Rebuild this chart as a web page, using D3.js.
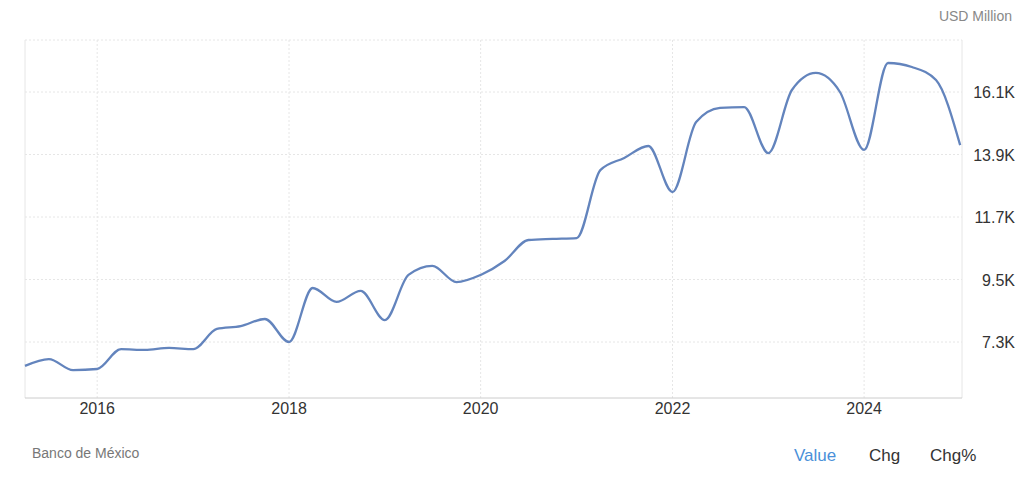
<!DOCTYPE html>
<html><head><meta charset="utf-8">
<script src="https://cdn.jsdelivr.net/npm/d3@7"></script>
<style>body{margin:0;background:#fff;font-family:"Helvetica Neue",Arial,"Liberation Sans",sans-serif}</style>
</head><body><svg id="c" width="1024" height="481"></svg>
<script>
const dates = ["2015-04","2015-07","2015-10","2016-01","2016-04","2016-07","2016-10","2017-01","2017-04","2017-07","2017-10","2018-01","2018-04","2018-07","2018-10","2019-01","2019-04","2019-07","2019-10","2020-01","2020-04","2020-07","2020-10","2021-01","2021-04","2021-07","2021-10","2022-01","2022-04","2022-07","2022-10","2023-01","2023-04","2023-07","2023-10","2024-01","2024-04","2024-07","2024-10","2025-01"];
const values = [6460,6700,6310,6350,7050,7020,7090,7050,7760,7860,8110,7300,9200,8710,9100,8070,9660,9980,9410,9660,10150,10890,10930,10960,13350,13780,14200,12580,15040,15540,15570,13950,16170,16770,16100,14060,17120,16980,16520,14230];
const yTicks = [7300,9500,11700,13900,16100];
const yTickLabels = ["7.3K","9.5K","11.7K","13.9K","16.1K"];
const xTickYears = [2016,2018,2020,2022,2024];

const svg = d3.select("#c");
const L=25,R=962,T=40,B=398;
const parse=d3.timeParse("%Y-%m");
const data=dates.map((d,i)=>({d:parse(d),v:values[i]}));
const x=d3.scaleTime().domain([new Date(2015,3,1),new Date(2025,0,8)]).range([L,R]);
const y=d3.scaleLinear().domain([7300,16100]).range([342,92]);

const g=svg.append("g");
g.selectAll(".hg").data(yTicks).join("line").attr("x1",L).attr("x2",R).attr("y1",d=>y(d)).attr("y2",d=>y(d)).attr("stroke","#e6e6e6").attr("stroke-dasharray","2,2");
g.append("line").attr("x1",L).attr("x2",R).attr("y1",T).attr("y2",T).attr("stroke","#e6e6e6").attr("stroke-dasharray","2,2");
g.selectAll(".vg").data(xTickYears).join("line").attr("x1",d=>x(new Date(d,0,1))).attr("x2",d=>x(new Date(d,0,1))).attr("y1",T).attr("y2",B).attr("stroke","#e6e6e6").attr("stroke-dasharray","2,2");
g.append("line").attr("x1",L).attr("x2",L).attr("y1",T).attr("y2",B).attr("stroke","#e6e6e6");
g.append("line").attr("x1",R).attr("x2",R).attr("y1",T).attr("y2",B).attr("stroke","#e6e6e6");
g.append("line").attr("x1",L).attr("x2",R).attr("y1",B).attr("y2",B).attr("stroke","#ccc");

g.selectAll(".yl").data(yTicks).join("text").attr("x",1015).attr("y",d=>y(d)+6).attr("text-anchor","end").attr("font-size",16).attr("fill","#333").text((d,i)=>yTickLabels[i]);
g.selectAll(".xl").data(xTickYears).join("text").attr("x",d=>x(new Date(d,0,1))).attr("y",414).attr("text-anchor","middle").attr("font-size",16).attr("fill","#333").text(d=>d);

svg.append("path").datum(data).attr("fill","none").attr("stroke","#6384bd").attr("stroke-width",2.3)
 .attr("d",d3.line().x(d=>x(d.d)).y(d=>y(d.v)).curve(d3.curveMonotoneX));

svg.append("text").attr("x",1012).attr("y",21).attr("text-anchor","end").attr("font-size",14).attr("fill","#888").text("USD Million");
svg.append("text").attr("x",32).attr("y",458).attr("font-size",14).attr("fill","#777").text("Banco de México");
svg.append("text").attr("x",794).attr("y",461).attr("font-size",17).attr("fill","#4a90d9").text("Value");
svg.append("text").attr("x",869).attr("y",461).attr("font-size",17).attr("fill","#333").text("Chg");
svg.append("text").attr("x",930).attr("y",461).attr("font-size",17).attr("fill","#333").text("Chg%");
</script></body></html>
